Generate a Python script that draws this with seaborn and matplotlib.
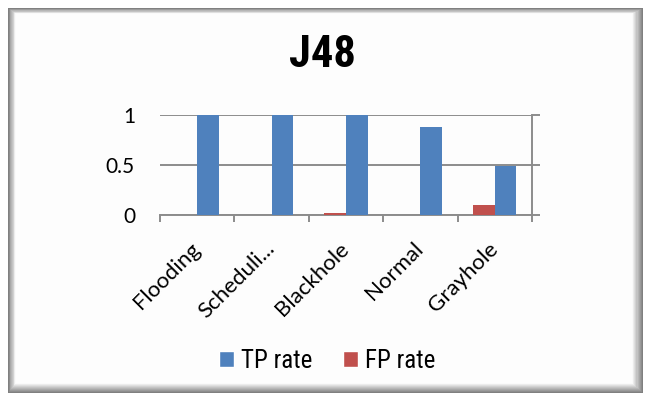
import matplotlib
matplotlib.use("Agg")
import matplotlib.pyplot as plt
import seaborn as sns
import pandas as pd
import numpy as np
from matplotlib.patches import Rectangle, Patch
from matplotlib import font_manager as fm

categories = ["Flooding", "Scheduli...", "Blackhole", "Normal", "Grayhole"]
tp_rate = [1.0, 1.0, 1.0, 0.88, 0.49]
fp_rate = [0.0, 0.0, 0.025, 0.0, 0.097]
series_names = ["TP rate", "FP rate"]
y_ticks = [0, 0.5, 1]
y_tick_labels = ["0", "0.5", "1"]
title = "J48"

df = pd.DataFrame({
    "category": categories * 2,
    "series": [series_names[0]] * len(categories) + [series_names[1]] * len(categories),
    "value": tp_rate + fp_rate,
})

sns.set_theme(style="white")
plt.rcParams["text.color"] = "black"

names = sorted({f.name for f in fm.fontManager.ttflist})
narrow = None
for cand in ["Liberation Sans Narrow", "Roboto Condensed", "Open Sans Condensed", "DejaVu Sans Condensed"]:
    if cand in names:
        narrow = cand
        break
narrow_family = [narrow, "DejaVu Sans"] if narrow else ["DejaVu Sans"]
narrow_stretch = "normal" if narrow else "condensed"

W, H = 645, 397
fig = plt.figure(figsize=(W / 100, H / 100), dpi=100)
fig.patch.set_facecolor("white")

def fx(x):
    return x / W

def fy(y):
    return 1 - y / H

# beveled frame
n = 10
for i in range(n):
    t = i / (n - 1)
    g = 0.50 + 0.48 * t
    l = 8 + i * 0.8
    tp = 8 + i * 0.6
    r = 643 - i * 1.1
    b = 393 - i * 1.0
    fig.patches.append(Rectangle((fx(l), fy(b)), fx(r - l), fy(tp) - fy(b),
                                 transform=fig.transFigure, facecolor=(g, g, g),
                                 edgecolor="none", zorder=-10))
fig.patches.append(Rectangle((fx(16), fy(383)), fx(632 - 16), fy(14) - fy(383),
                             transform=fig.transFigure, facecolor="#fdfdfd",
                             edgecolor="none", zorder=-9))

ax = fig.add_axes([fx(160), fy(215), fx(532 - 160), fy(115) - fy(215)])
ax.set_facecolor("none")
ax.set_zorder(1)

palette = {"TP rate": "#4F81BD", "FP rate": "#C0504D"}
sns.barplot(data=df, x="category", y="value", hue="series",
            hue_order=["FP rate", "TP rate"], order=categories,
            palette=palette, width=0.58, ax=ax, legend=False,
            saturation=1, zorder=3, linewidth=0)

ax.set_ylim(0, 1)
ax.set_xlim(-0.5, len(categories) - 0.5)
ax.set_yticks(y_ticks)
ax.set_yticklabels(y_tick_labels)
ax.set_xlabel("")
ax.set_ylabel("")

gray = "#8c8c8c"
for yv in y_ticks:
    ax.axhline(yv, color=gray, lw=1.4, zorder=1)

for s in ["top", "left"]:
    ax.spines[s].set_visible(False)
ax.spines["right"].set_color(gray)
ax.spines["right"].set_linewidth(1.4)
ax.spines["bottom"].set_color(gray)
ax.spines["bottom"].set_linewidth(1.4)

ax.tick_params(axis="y", left=False, right=True, labelleft=True, labelright=False,
               length=6, width=1.4, color=gray, pad=12)
for lab in ax.get_yticklabels():
    lab.set_fontfamily(["Lato", "DejaVu Sans"])
    lab.set_fontsize(15)
    lab.set_color("black")

ax.set_xticks(np.arange(-0.5, len(categories), 1.0), minor=True)
ax.tick_params(axis="x", which="minor", bottom=True, length=5, width=1.4, color=gray)
ax.tick_params(axis="x", which="major", bottom=False, length=0, pad=22)
ax.set_xticks(range(len(categories)))
ax.set_xticklabels(categories, rotation=45, ha="right", va="center",
                   rotation_mode="anchor",
                   fontsize=16, family=["Lato", "DejaVu Sans"], color="black")

fig.text(0.5, fy(55), title, ha="center", va="center", fontsize=32,
         fontweight="bold", family=narrow_family, fontstretch=narrow_stretch, color="black")

handles = [Patch(facecolor=palette["TP rate"]), Patch(facecolor=palette["FP rate"])]
leg = fig.legend(handles, series_names, loc="center", bbox_to_anchor=(fx(327), fy(361)),
                 ncol=2, frameon=False, handlelength=0.6, handleheight=0.6,
                 handletextpad=0.3, columnspacing=1.2,
                 prop={"family": narrow_family, "size": 18, "stretch": narrow_stretch})
for t in leg.get_texts():
    t.set_color("black")

fig.savefig("out.png", dpi=100, facecolor="white")
